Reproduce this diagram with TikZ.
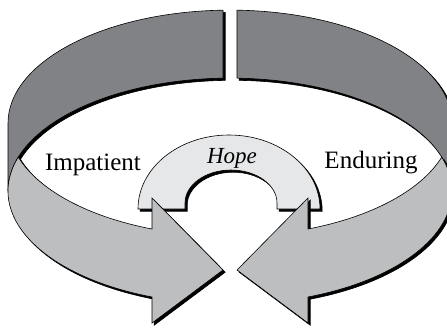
\documentclass[tikz,border=0pt]{standalone}
\usepackage{fontspec}
\setmainfont{Liberation Serif}
\definecolor{darkband}{HTML}{808285}
\definecolor{lightband}{HTML}{BCBEC0}
\definecolor{hopefill}{HTML}{E6E7E8}
\begin{document}
\begin{tikzpicture}[x=1pt,y=-1pt,
  outline/.style={draw=black,line width=0.6pt,line join=miter},
  shade/.style={fill=black,draw=black,line width=0.6pt,shift={(2.2,2.2)}},
  lbl/.style={anchor=base,inner sep=0pt,font=\fontsize{25}{28}\selectfont},
  ellR/.style={x radius=222,y radius=113.1}]
\useasboundingbox (0,0) rectangle (447,330);
\clip (0,0) rectangle (447,330);
\fill[white] (0,0) rectangle (447,330);
% ---- dark back band, left piece
\def\leftdark{(223,10.16) arc[start angle=268.19,end angle=180,ellR] -- ++(0,68) arc[start angle=180,end angle=268.19,ellR] -- cycle}
\def\rightdark{(237,10.16) arc[start angle=271.81,end angle=360,ellR] -- ++(0,68) arc[start angle=360,end angle=271.81,ellR] -- cycle}
\fill[shade] \leftdark;
\fill[shade] \rightdark;
\path[outline,fill=darkband] \leftdark;
\path[outline,fill=darkband] \rightdark;
% ---- Hope arch
\def\hopearch{(138,209) arc[start angle=180,end angle=360,x radius=91,y radius=74] -- (277,209) -- (277,203) arc[start angle=0,end angle=-180,x radius=46,y radius=33] -- (185,209) -- cycle}
\fill[shade] \hopearch;
\path[outline,fill=hopefill] \hopearch;
% ---- light arrows
\def\leftarrow{(152,229) arc[start angle=110.57,end angle=162.51,ellR] arc[start angle=197.49,end angle=110.57,ellR] -- (152,323) -- (223,270) -- (152,198) -- cycle}
\def\rightarrow{(308,229) arc[start angle=69.43,end angle=17.49,ellR] arc[start angle=-17.49,end angle=69.43,ellR] -- (308,323) -- (237,270) -- (308,198) -- cycle}
\fill[shade] \leftarrow;
\fill[shade] \rightarrow;
\path[outline,fill=lightband] \leftarrow;
\path[outline,fill=lightband] \rightarrow;
% ---- labels
\node[lbl] (imp) at (93,170) {Impatient};
\node[lbl] (end) at (371,168) {Enduring};
\node[lbl,font=\fontsize{23}{26}\selectfont\itshape] (hope) at (232,163) {Hope};
\end{tikzpicture}
\end{document}
